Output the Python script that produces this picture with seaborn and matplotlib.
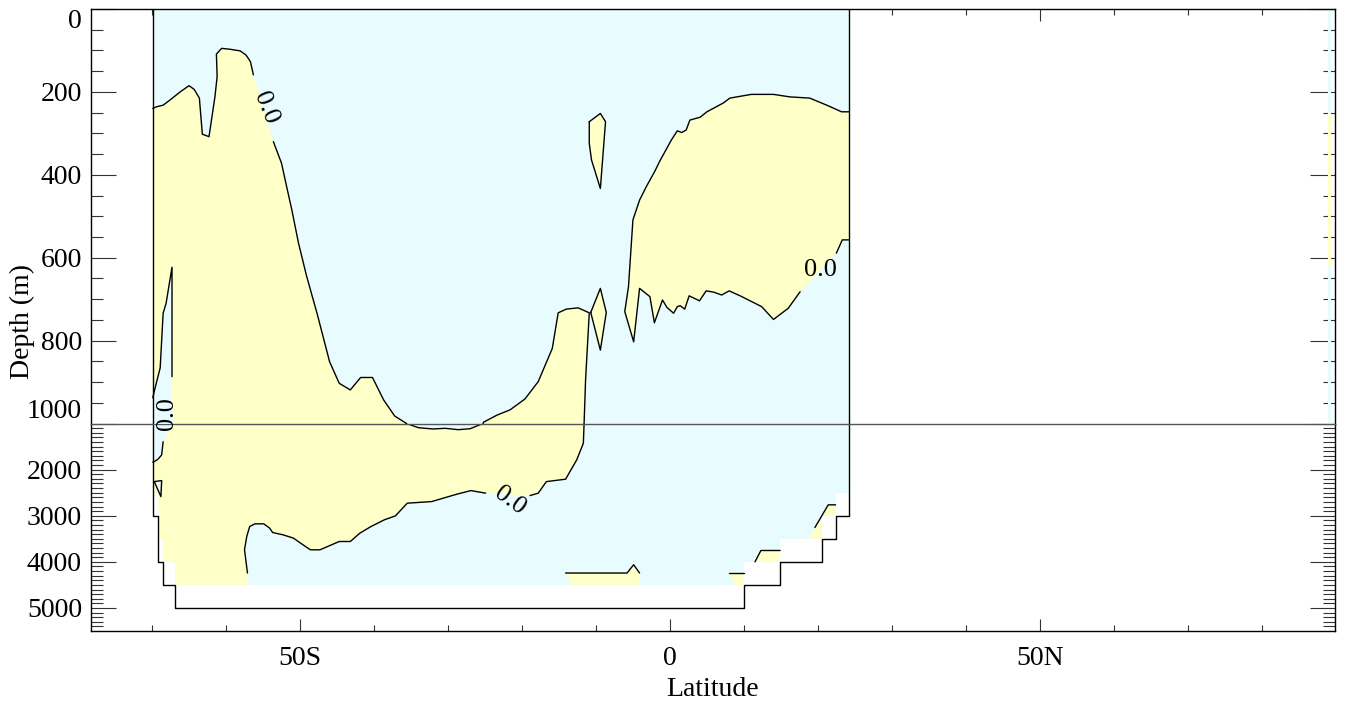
import matplotlib
matplotlib.use("Agg")
import matplotlib.pyplot as plt
import seaborn as sns

# ---------------- axis / tick data ----------------
LAT_LIM = [-78.25, 89.9]
X_MAJOR = [-50, 0, 50]
X_LABELS = ["50S", "0", "50N"]
X_MINOR = [-70, -60, -40, -30, -20, -10, 10, 20, 30, 40, 60, 70, 80]
Y_TOP_LIM = [1000, 0]
Y_TOP_MAJOR = [0, 200, 400, 600, 800, 1000]
Y_TOP_LABELS = ["0", "200", "400", "600", "800", "1000"]
Y_TOP_MINOR = list(range(50, 1000, 50))
Y_BOT_LIM = [5500, 1000]
Y_BOT_MAJOR = [2000, 3000, 4000, 5000]
Y_BOT_LABELS = ["2000", "3000", "4000", "5000"]
Y_BOT_MINOR = list(range(1100, 5500, 100))

# ---------------- section data (latitude, depth m) ----------------
# ocean (data) area
OCEAN_LAT = [-69.9, -69.9, -69.15, -69.15, -68.5, -68.5, -66.9, -66.9, 10.0, 10.0,
             14.9, 14.9, 20.5, 20.5, 22.4, 22.4, 24.2, 24.2]
OCEAN_DEP = [0, 2500, 2500, 3500, 3500, 4000, 4000, 4500, 4500, 4000,
             4000, 3500, 3500, 3000, 3000, 2500, 2500, 0]
# bottom topography outline
TOPO_LAT = [-69.9, -69.9, -69.15, -69.15, -68.5, -68.5, -66.9, -66.9, 10.0, 10.0,
            14.9, 14.9, 20.5, 20.5, 22.4, 22.4, 24.2, 24.2]
TOPO_DEP = [0, 3000, 3000, 4000, 4000, 4500, 4500, 5000, 5000, 4500,
            4500, 4000, 4000, 3500, 3500, 3000, 3000, 0]
# thin column at the northern edge
EDGE_LAT = [88.9, 89.4, 89.4, 88.9]
EDGE_BLUE_DEP = [0, 0, 1000, 1000]
EDGE_YEL_DEP = [250, 250, 620, 620]

# zero contour, large southern positive region (three pieces between labels)
SA_LAT = [-69.9, -69.4, -68.5, -67.6, -66.2, -65.0, -64.3, -63.6, -63.2, -62.3, -61.5,
          -61.2, -61.3, -60.6, -59.5, -58.1, -57.3, -56.7, -56.3]
SA_DEP = [240, 236, 232, 220, 200, 185, 194, 215, 302, 308, 212,
          163, 109, 95, 97, 101, 111, 127, 159]
SB_LAT = [-53.6, -52.5, -51.8, -51.1, -50.2, -49.1, -47.7, -46.0, -44.7, -43.2, -41.8,
          -40.2, -38.7, -37.2, -35.6, -34.0, -32.0, -30.4, -28.6, -27.0, -25.2, -23.4,
          -21.6, -19.6, -17.8, -15.9, -15.1, -14.0, -12.4, -10.9, -11.4, -11.6, -11.7,
          -12.6, -14.1, -16.7, -17.8, -18.9]
SB_DEP = [320, 372, 429, 485, 565, 645, 734, 851, 903, 919, 889,
          889, 943, 982, 1000, 1091, 1119, 1104, 1134, 1113, 997, 980,
          967, 941, 899, 819, 733, 724, 721, 733, 895, 1000, 1429,
          1790, 2208, 2260, 2511, 2563]
SC_LAT = [-24.9, -26.9, -28.8, -32.2, -35.5, -37.1, -38.6, -40.4, -41.9, -43.2, -44.7,
          -47.3, -48.6, -49.6, -50.9, -52.3, -53.7, -54.1, -54.9, -56.1, -56.8, -57.2,
          -57.5, -57.1]
SC_DEP = [2511, 2455, 2533, 2693, 2728, 3003, 3089, 3234, 3377, 3559, 3559,
          3739, 3739, 3630, 3485, 3414, 3364, 3269, 3176, 3176, 3234, 3451,
          3739, 4243]
S_CLOSE_LAT = [-57.0, -66.9, -66.9, -68.5, -68.5, -69.15, -69.15, -69.9]
S_CLOSE_DEP = [4500, 4500, 4000, 4000, 3500, 3500, 2500, 2500]

# negative sliver near the Antarctic wall
NV1_LAT = [-69.9, -69.6, -68.9, -68.5, -68.1, -67.3, -67.3]
NV1_DEP = [938, 915, 866, 734, 710, 623, 887]
NV_MID_LAT = [-67.3, -67.1, -67.6]
NV_MID_DEP = [943, 1000, 1150]
NV2_LAT = [-68.5, -68.7, -69.2, -69.7, -69.9]
NV2_DEP = [1394, 1682, 1775, 1827, 1840]
TRI_LAT = [-69.7, -68.7, -68.8]
TRI_DEP = [2260, 2238, 2585]

# northern positive lobe
NA_LAT = [24.2, 23.2, 21.2, 18.9, 16.2, 14.0, 11.0, 8.1, 7.2, 5.0, 4.1, 2.7, 2.2, 1.6,
          1.0, 0.2, -1.4, -2.0, -3.2, -4.1, -5.0, -5.6, -6.1, -4.9, -4.1, -2.7, -2.1,
          -1.0, -0.4, 0.5, 1.0, 1.4, 2.0, 2.6, 4.0, 4.9, 5.9, 7.0, 8.0, 9.5, 12.4,
          14.0, 16.0, 17.6]
NA_DEP = [248, 248, 232, 215, 212, 206, 206, 215, 227, 248, 261, 268, 292, 298,
          294, 316, 368, 390, 429, 461, 509, 670, 730, 803, 674, 694, 757,
          702, 720, 734, 718, 716, 724, 692, 704, 680, 683, 690, 680, 692, 718,
          749, 722, 682]
NB_LAT = [22.5, 23.3, 24.2]
NB_DEP = [589, 557, 557]

# small isolated positive cells
P1_LAT = [-10.9, -9.4, -8.7, -9.4, -10.6, -10.9]
P1_DEP = [272, 252, 272, 433, 364, 324]
P2_LAT = [-10.7, -9.4, -8.6, -9.4]
P2_DEP = [732, 674, 732, 823]

# small positive patches near the bottom
BA_LAT = [-14.1, -5.8, -4.9, -4.1]
BA_DEP = [4243, 4243, 4063, 4243]
BA_CLOSE_LAT = [-4.1, -13.3]
BA_CLOSE_DEP = [4500, 4500]
BB_LAT = [8.0, 10.0]
BB_DEP = [4243, 4243]
BB_CLOSE_LAT = [10.0, 8.8]
BB_CLOSE_DEP = [4500, 4500]
BC_LAT = [11.5, 12.3, 14.9]
BC_DEP = [4000, 3754, 3754]
BC_CLOSE_LAT = [14.9]
BC_CLOSE_DEP = [4000]
BD_LAT = [19.6, 21.4, 22.4]
BD_DEP = [3256, 2764, 2764]
BD_CLOSE_LAT = [22.4, 20.5, 20.5, 18.9]
BD_CLOSE_DEP = [3000, 3000, 3500, 3500]

# contour labels: (lat, depth, rotation, panel)
LABELS = [(-54.7, 240, -68, "top"), (-67.95, 975, 90, "top"),
          (-21.6, 2672, -36, "bot"), (20.3, 630, 0, "top")]
LABEL_TEXT = "0.0"

BLUE = "#E8FCFF"
YELLOW = "#FFFFC8"

# ---------------- style ----------------
sns.set_style("ticks")
plt.rcParams["font.family"] = ["Liberation Serif", "DejaVu Serif"]
plt.rcParams["font.size"] = 20
for key in ("text.color", "axes.labelcolor", "xtick.labelcolor", "ytick.labelcolor"):
    plt.rcParams[key] = "black"

W, H = 1347, 704
fig = plt.figure(figsize=(W / 100, H / 100), dpi=100)


def rect(l, t, r, b):
    return [l / W, 1 - b / H, (r - l) / W, (b - t) / H]


ax_bot = fig.add_axes(rect(91, 423.5, 1335, 631))
ax_top = fig.add_axes(rect(91, 9, 1335, 423.5))


def closed(a):
    return list(a) + [a[0]]


def contour_line(ax, lat, dep):
    sns.lineplot(x=lat, y=dep, sort=False, estimator=None, color="black",
                 linewidth=1.0, ax=ax, zorder=5)


def draw(ax):
    ax.fill(OCEAN_LAT, OCEAN_DEP, color=BLUE, lw=0, zorder=1)
    ax.fill(EDGE_LAT, EDGE_BLUE_DEP, color=BLUE, lw=0, zorder=1)
    ax.fill(EDGE_LAT, EDGE_YEL_DEP, color=YELLOW, lw=0, zorder=2)
    # positive regions
    ax.fill(SA_LAT + SB_LAT + SC_LAT + S_CLOSE_LAT,
            SA_DEP + SB_DEP + SC_DEP + S_CLOSE_DEP, color=YELLOW, lw=0, zorder=2)
    ax.fill(NA_LAT + NB_LAT, NA_DEP + NB_DEP, color=YELLOW, lw=0, zorder=2)
    ax.fill(P1_LAT, P1_DEP, color=YELLOW, lw=0, zorder=2)
    ax.fill(P2_LAT, P2_DEP, color=YELLOW, lw=0, zorder=2)
    ax.fill(BA_LAT + BA_CLOSE_LAT, BA_DEP + BA_CLOSE_DEP, color=YELLOW, lw=0, zorder=2)
    ax.fill(BB_LAT + BB_CLOSE_LAT, BB_DEP + BB_CLOSE_DEP, color=YELLOW, lw=0, zorder=2)
    ax.fill(BC_LAT + BC_CLOSE_LAT, BC_DEP + BC_CLOSE_DEP, color=YELLOW, lw=0, zorder=2)
    ax.fill(BD_LAT + BD_CLOSE_LAT, BD_DEP + BD_CLOSE_DEP, color=YELLOW, lw=0, zorder=2)
    # negative pockets inside positive region
    ax.fill(NV1_LAT + NV_MID_LAT + NV2_LAT, NV1_DEP + NV_MID_DEP + NV2_DEP,
            color=BLUE, lw=0, zorder=3)
    ax.fill(TRI_LAT, TRI_DEP, color=BLUE, lw=0, zorder=3)
    # contour lines
    for la, de in [(SA_LAT, SA_DEP), (SB_LAT, SB_DEP), (SC_LAT, SC_DEP),
                   (NV1_LAT, NV1_DEP), (NV2_LAT, NV2_DEP),
                   (closed(TRI_LAT), closed(TRI_DEP)),
                   (NA_LAT, NA_DEP), (NB_LAT, NB_DEP),
                   (closed(P1_LAT), closed(P1_DEP)), (closed(P2_LAT), closed(P2_DEP)),
                   (BA_LAT, BA_DEP), (BB_LAT, BB_DEP), (BC_LAT, BC_DEP), (BD_LAT, BD_DEP)]:
        contour_line(ax, la, de)
    sns.lineplot(x=TOPO_LAT, y=TOPO_DEP, sort=False, estimator=None, color="black",
                 linewidth=1.0, ax=ax, zorder=5)


draw(ax_bot)
draw(ax_top)

for lat, dep, rot, which in LABELS:
    ax = ax_top if which == "top" else ax_bot
    ax.text(lat, dep, LABEL_TEXT, rotation=rot, rotation_mode="anchor",
            ha="center", va="center", fontsize=19, color="black", zorder=6,
            clip_on=False)

for ax in (ax_top, ax_bot):
    ax.set_xlim(*LAT_LIM)
    ax.set_xticks(X_MINOR, minor=True)
    ax.tick_params(axis="both", which="both", direction="in", color="#333333",
                   width=0.8, labelsize=20, labelcolor="black")
    ax.tick_params(axis="y", which="major", length=18, left=True, right=True, pad=6.5)
    ax.tick_params(axis="y", which="minor", length=8.6, left=True, right=True)
    ax.tick_params(axis="x", which="major", length=8.6, pad=11)
    ax.tick_params(axis="x", which="minor", length=4.3)
    for s in ax.spines.values():
        s.set_color("black")
        s.set_linewidth(1.0)
    ax.set_xlabel("")
    ax.set_ylabel("")

ax_top.set_xticks(X_MAJOR)
ax_top.tick_params(axis="x", which="both", top=True, bottom=False,
                   labelbottom=False, labeltop=False)
ax_top.set_ylim(*Y_TOP_LIM)
ax_top.set_yticks(Y_TOP_MAJOR, labels=Y_TOP_LABELS)
ax_top.set_yticks(Y_TOP_MINOR, minor=True)
ax_top.spines["bottom"].set_color("#555555")
yl = ax_top.get_yticklabels()
yl[0].set_verticalalignment("top")
yl[-1].set_verticalalignment("bottom")

ax_bot.set_xticks(X_MAJOR, labels=X_LABELS)
ax_bot.tick_params(axis="x", which="both", top=False, bottom=True)
ax_bot.set_ylim(*Y_BOT_LIM)
ax_bot.set_yticks(Y_BOT_MAJOR, labels=Y_BOT_LABELS)
ax_bot.set_yticks(Y_BOT_MINOR, minor=True)
ax_bot.spines["top"].set_visible(False)
ax_bot.set_xlabel("Latitude", fontsize=20, labelpad=4, color="black")

fig.text(22 / W, 1 - 321 / H, "Depth (m)", rotation=90, ha="center", va="center",
         fontsize=20, color="black")

fig.savefig("out.png", dpi=100)
